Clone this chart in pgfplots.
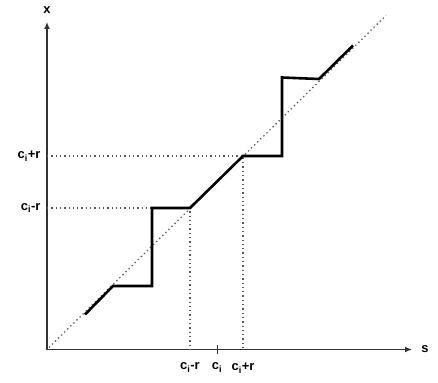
\documentclass[border=0pt]{standalone}
\usepackage{fontspec}
\setmainfont{Liberation Sans}
\usepackage{pgfplots}
\pgfplotsset{compat=1.18}
\usetikzlibrary{arrows.meta}
\begin{document}
\begin{tikzpicture}
\path[use as bounding box] (-47bp,-33.5bp) rectangle (391bp,349.5bp);
\begin{axis}[
  at={(0,0)}, anchor=origin,
  x=1bp, y=1bp,
  xmin=0, xmax=365, ymin=0, ymax=327.5,
  axis lines=left,
  axis line style={line width=1.5bp, gray!40!black, -{Latex[length=7bp,width=6bp]}},
  clip=false,
  font=\fontsize{13}{14}\selectfont\bfseries,
  xtick={143,196}, xticklabels={c$_\mathbf{i}$-r, c$_\mathbf{i}$+r},
  ytick={141.5,193.5}, yticklabels={c$_\mathbf{i}$-r, c$_\mathbf{i}$+r},
  major tick length=0pt,
  extra x ticks={170}, extra x tick labels={c$_\mathbf{i}$},
  extra x tick style={major tick length=9bp, tick align=center, tick style={line width=0.8bp, gray!40!black}, xticklabel style={yshift=4.5bp}},
  xticklabel style={yshift=-10bp},
  yticklabel style={xshift=-3bp},
  xlabel={s}, ylabel={x},
  xlabel style={at={(axis cs:378,0)}, anchor=center, rotate=0},
  ylabel style={at={(axis cs:0,339)}, anchor=center, rotate=-90},
]
\addplot[line width=1.3bp, gray!70!black, dash pattern=on 1.3bp off 3bp] coordinates {(2,2) (339,334)};
\addplot[line width=1.3bp, gray!70!black, dash pattern=on 1.3bp off 3bp] coordinates {(0,141.5) (143,141.5) (143,0)};
\addplot[line width=1.3bp, gray!70!black, dash pattern=on 1.3bp off 3bp] coordinates {(0,193.5) (196,193.5) (196,0)};
\addplot[black, line width=2.6bp, line join=miter] coordinates {
(38,35) (66,63.5) (105,63.5) (105,141.5) (143,141.5) (196,193.5) (235,193.5) (235,272) (272,270.5) (306,304)};
\end{axis}
\end{tikzpicture}
\end{document}
